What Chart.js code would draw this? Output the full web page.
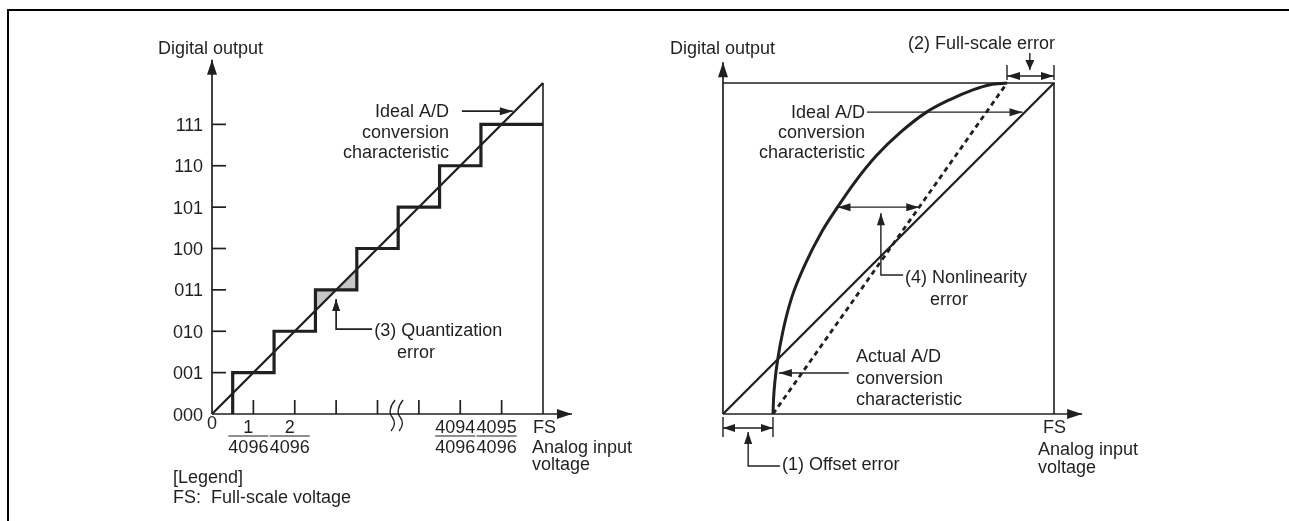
<!DOCTYPE html>
<html>
<head>
<meta charset="utf-8">
<script src="https://cdn.jsdelivr.net/npm/chart.js@4.4.1/dist/chart.umd.min.js"></script>
<style>
    html, body { margin: 0; padding: 0; background: #fff; }
    body { width: 1289px; height: 521px; position: relative; overflow: hidden; }
    .frame { position: absolute; left: 7px; top: 9px; right: 0; bottom: 0; border-top: 2.5px solid #000; border-left: 2px solid #000; }
    canvas { position: absolute; top: 0; }
    #c-steps { left: 0; }
    #c-errors { left: 645px; }
</style>
</head>
<body>
<div class="frame"></div>
<canvas id="c-steps" width="645" height="521"></canvas>
<canvas id="c-errors" width="644" height="521"></canvas>
<script>
const ink   = '#231f20';
const shade = '#c6c6c6';
const FONT  = '18px "Liberation Sans", Arial, Helvetica, sans-serif';

/* ── Left: 3-bit staircase (x in LSB steps, FS = 8) ── */
const codeLabels  = ['000', '001', '010', '011', '100', '101', '110', '111'];
const inputTicks  = [1, 2, 3, 4, 5, 6, 7];
const fracNums    = ['1', '2', '4094', '4095'];
const fracAt      = [1, 2, 6, 7];
const fracDen     = '4096';
const stepEdges   = [0.5, 1.5, 2.5, 3.5, 4.5, 5.5, 6.5, 8];
const stepCodes   = [1, 2, 3, 4, 5, 6, 7];
const fullScale   = 8;
const breakAt     = 4.45;
const quantStep   = 2;

/* ── Right: error characteristics (normalised, FS = 1) ── */
const offsetErr   = 0.151;
const fsReached   = 0.858;
const actualX     = [0.151, 0.153, 0.157, 0.165, 0.181, 0.207, 0.247, 0.298, 0.346, 0.398, 0.463, 0.535, 0.615, 0.686, 0.757, 0.807, 0.858];
const actualY     = [0,     0.05,  0.10,  0.163, 0.25,  0.35,  0.45,  0.55,  0.625, 0.70,  0.78,  0.85,  0.912, 0.95,  0.98,  0.995, 1];
const nonlinAt    = 8;

/* ── drawing helpers ── */
function head(ctx, fx, fy, tx, ty, len = 12, half = 4) {
    const a = Math.atan2(ty - fy, tx - fx);
    const bx = tx - len * Math.cos(a), by = ty - len * Math.sin(a);
    ctx.beginPath();
    ctx.moveTo(tx, ty);
    ctx.lineTo(bx + half * Math.sin(a), by - half * Math.cos(a));
    ctx.lineTo(bx - half * Math.sin(a), by + half * Math.cos(a));
    ctx.closePath();
    ctx.fill();
}

function arrow(ctx, pts, len, half) {
    ctx.beginPath();
    ctx.moveTo(pts[0][0], pts[0][1]);
    pts.slice(1).forEach(p => ctx.lineTo(p[0], p[1]));
    ctx.stroke();
    const n = pts.length;
    head(ctx, pts[n - 2][0], pts[n - 2][1], pts[n - 1][0], pts[n - 1][1], len, half);
}

function dimension(ctx, x1, x2, y, len = 12, half = 4) {
    ctx.beginPath(); ctx.moveTo(x1, y); ctx.lineTo(x2, y); ctx.stroke();
    head(ctx, x2, y, x1, y, len, half);
    head(ctx, x1, y, x2, y, len, half);
}

function seg(ctx, x1, y1, x2, y2) {
    ctx.beginPath(); ctx.moveTo(x1, y1); ctx.lineTo(x2, y2); ctx.stroke();
}

function label(ctx, lines, x, y, align = 'left', step = 20.5) {
    ctx.textAlign = align;
    ctx.textBaseline = 'alphabetic';
    [].concat(lines).forEach((s, i) => ctx.fillText(s, x, y + i * step));
}

function prep(ctx) {
    ctx.save();
    ctx.fillStyle = ink;
    ctx.strokeStyle = ink;
    ctx.lineWidth = 1.7;
    ctx.font = FONT;
}

/* ── Left chart decorations ── */
const stepsDecor = {
    id: 'stepsDecor',
    beforeDatasetsDraw(chart) {
        const { ctx, scales: { x, y } } = chart;
        const X = v => x.getPixelForValue(v), Y = v => y.getPixelForValue(v);
        const x0 = stepEdges[quantStep], x1 = stepEdges[quantStep + 1], c = stepCodes[quantStep];
        ctx.save();
        ctx.fillStyle = shade;
        [[[x0, x0], [x0, c], [c, c]], [[c, c], [x1, c], [x1, x1]]].forEach(tri => {
            ctx.beginPath();
            tri.forEach((p, i) => i ? ctx.lineTo(X(p[0]), Y(p[1])) : ctx.moveTo(X(p[0]), Y(p[1])));
            ctx.closePath();
            ctx.fill();
        });
        ctx.restore();
    },
    afterDraw(chart) {
        const { ctx, scales: { x, y } } = chart;
        const X = v => x.getPixelForValue(v), Y = v => y.getPixelForValue(v);
        const ox = X(0), oy = Y(0);
        prep(ctx);

        // axes with arrows
        arrow(ctx, [[ox, oy], [ox, Y(8.56)]], 15, 5);
        arrow(ctx, [[ox, oy], [X(8.7), oy]], 15, 5);

        // y ticks and codes
        inputTicks.forEach(v => seg(ctx, ox, Y(v), ox + 14, Y(v)));
        codeLabels.forEach((s, i) => label(ctx, s, ox - 9, Y(i) + 6.5, 'right'));

        // x ticks and fractions
        inputTicks.forEach(v => seg(ctx, X(v), oy, X(v), oy - 14));
        label(ctx, '0', ox, oy + 15, 'center');
        const dw = ctx.measureText(fracDen).width;
        fracNums.forEach((n, i) => {
            const cx = X(fracAt[i]) - 5;
            label(ctx, n, cx, oy + 19, 'center');
            label(ctx, fracDen, cx, oy + 39, 'center');
            ctx.lineWidth = 1.2;
            seg(ctx, cx - dw / 2, oy + 22, cx + dw / 2, oy + 22);
            ctx.lineWidth = 1.7;
        });

        // axis break
        ctx.lineWidth = 1.3;
        [-4, 4].forEach(d => {
            const bx = X(breakAt) + d;
            ctx.beginPath();
            ctx.moveTo(bx + 3, oy - 14);
            ctx.bezierCurveTo(bx - 3, oy - 7, bx - 3, oy, bx, oy + 3);
            ctx.bezierCurveTo(bx + 3, oy + 7, bx + 3, oy + 12, bx - 1, oy + 17);
            ctx.stroke();
        });
        ctx.lineWidth = 1.7;

        label(ctx, 'Digital output', X(-1.305), Y(8.7));
        label(ctx, 'FS', X(fullScale) - 10, oy + 19);
        label(ctx, ['Analog input', 'voltage'], X(fullScale) - 11, oy + 39, 'left', 17);
        label(ctx, ['[Legend]', 'FS:  Full-scale voltage'], ox - 39, oy + 69, 'left', 20);

        // ideal characteristic callout
        label(ctx, ['Ideal A/D', 'conversion', 'characteristic'], X(5.73), Y(7.17), 'right');
        arrow(ctx, [[X(6.04), Y(7.32)], [X(7.27), Y(7.32)]], 13, 4);

        // quantization error callout
        arrow(ctx, [[X(3.87), Y(2.05)], [X(3), Y(2.05)], [X(3), Y(2.78)]], 12, 4);
        label(ctx, '(3) Quantization', X(3.92), Y(1.885));
        label(ctx, 'error', X(4.47), Y(1.885) + 22);
        ctx.restore();
    }
};

/* ── Right chart decorations ── */
const errorsDecor = {
    id: 'errorsDecor',
    afterDraw(chart) {
        const { ctx, scales: { x, y } } = chart;
        const X = v => x.getPixelForValue(v), Y = v => y.getPixelForValue(v);
        const ox = X(0), oy = Y(0), top = Y(1);
        prep(ctx);

        arrow(ctx, [[ox, oy], [ox, Y(1.063)]], 15, 5);
        arrow(ctx, [[ox, oy], [X(1.085), oy]], 15, 5);

        label(ctx, 'Digital output', ox - 53, top - 29);
        label(ctx, 'FS', X(1) - 11, oy + 19);
        label(ctx, ['Analog input', 'voltage'], X(1) - 16, oy + 41, 'left', 18);

        // (2) full-scale error
        ctx.lineWidth = 1.4;
        seg(ctx, X(fsReached), top - 18, X(fsReached), top - 3);
        seg(ctx, X(1), top - 18, X(1), top - 3);
        dimension(ctx, X(fsReached), X(1), top - 7, 13, 4);
        arrow(ctx, [[X(0.927), top - 30], [X(0.927), top - 13]], 10, 4.5);
        label(ctx, '(2) Full-scale error', X(0.559), top - 34);

        // ideal characteristic
        label(ctx, ['Ideal A/D', 'conversion', 'characteristic'], X(0.429), Y(0.894), 'right', 20);
        arrow(ctx, [[X(0.435), Y(0.912)], [X(0.905), Y(0.912)]], 13, 4);

        // (4) nonlinearity between actual curve and the straight line through its ends
        const ny = actualY[nonlinAt];
        const dashedX = offsetErr + ny * (fsReached - offsetErr);
        dimension(ctx, X(actualX[nonlinAt]), X(dashedX), Y(ny), 13, 4);
        arrow(ctx, [[X(0.544), Y(0.42)], [X(0.477), Y(0.42)], [X(0.477), Y(ny) + 6]], 12, 4);
        label(ctx, '(4) Nonlinearity', X(0.55), Y(0.396));
        label(ctx, 'error', X(0.625), Y(0.329));

        // actual characteristic
        label(ctx, ['Actual A/D', 'conversion', 'characteristic'], X(0.402), Y(0.157), 'left', 21.5);
        arrow(ctx, [[X(0.38), Y(0.124)], [X(0.169), Y(0.124)]], 13, 4);

        // (1) offset error
        seg(ctx, ox, oy + 3, ox, oy + 23);
        seg(ctx, X(offsetErr), oy + 3, X(offsetErr), oy + 23);
        dimension(ctx, ox, X(offsetErr), oy + 14, 12, 4);
        arrow(ctx, [[X(0.172), oy + 52], [X(0.076), oy + 52], [X(0.076), oy + 18]], 12, 4);
        label(ctx, '(1) Offset error', X(0.178), oy + 56);
        ctx.restore();
    }
};

/* ── datasets ── */
const stairPts = [{ x: stepEdges[0], y: 0 }];
stepCodes.forEach((c, i) => {
    stairPts.push({ x: stepEdges[i], y: c });
    stairPts.push({ x: stepEdges[i + 1], y: c });
});

const lineDs = (data, width, extra = {}) => Object.assign({
    data, borderColor: ink, borderWidth: width, pointRadius: 0,
    fill: false, tension: 0, clip: false, showLine: true
}, extra);

function baseOptions(pad, xmax, ymax) {
    return {
        responsive: false,
        animation: false,
        events: [],
        layout: { padding: pad, autoPadding: false },
        plugins: { legend: { display: false }, tooltip: { enabled: false } },
        scales: {
            x: { type: 'linear', min: 0, max: xmax, display: false },
            y: { type: 'linear', min: 0, max: ymax, display: false }
        }
    };
}

new Chart(document.getElementById('c-steps'), {
    type: 'scatter',
    data: {
        datasets: [
            lineDs([{ x: fullScale, y: 0 }, { x: fullScale, y: fullScale }], 1.6),
            lineDs([{ x: 0, y: 0 }, { x: fullScale, y: fullScale }], 2.3),
            lineDs(stairPts, 3.2, { borderJoinStyle: 'miter' })
        ]
    },
    options: baseOptions({ left: 212, right: 102, top: 83, bottom: 107 }, fullScale, fullScale),
    plugins: [stepsDecor]
});

new Chart(document.getElementById('c-errors'), {
    type: 'scatter',
    data: {
        datasets: [
            lineDs([{ x: 0, y: 1 }, { x: 1, y: 1 }, { x: 1, y: 0 }], 1.6),
            lineDs([{ x: 0, y: 0 }, { x: 1, y: 1 }], 2.3),
            lineDs([{ x: offsetErr, y: 0 }, { x: fsReached, y: 1 }], 2.8, { borderDash: [5, 4] }),
            lineDs(actualX.map((v, i) => ({ x: v, y: actualY[i] })), 3, { cubicInterpolationMode: 'monotone' })
        ]
    },
    options: baseOptions({ left: 78, right: 235, top: 83, bottom: 107 }, 1, 1),
    plugins: [errorsDecor]
});
</script>
</body>
</html>
